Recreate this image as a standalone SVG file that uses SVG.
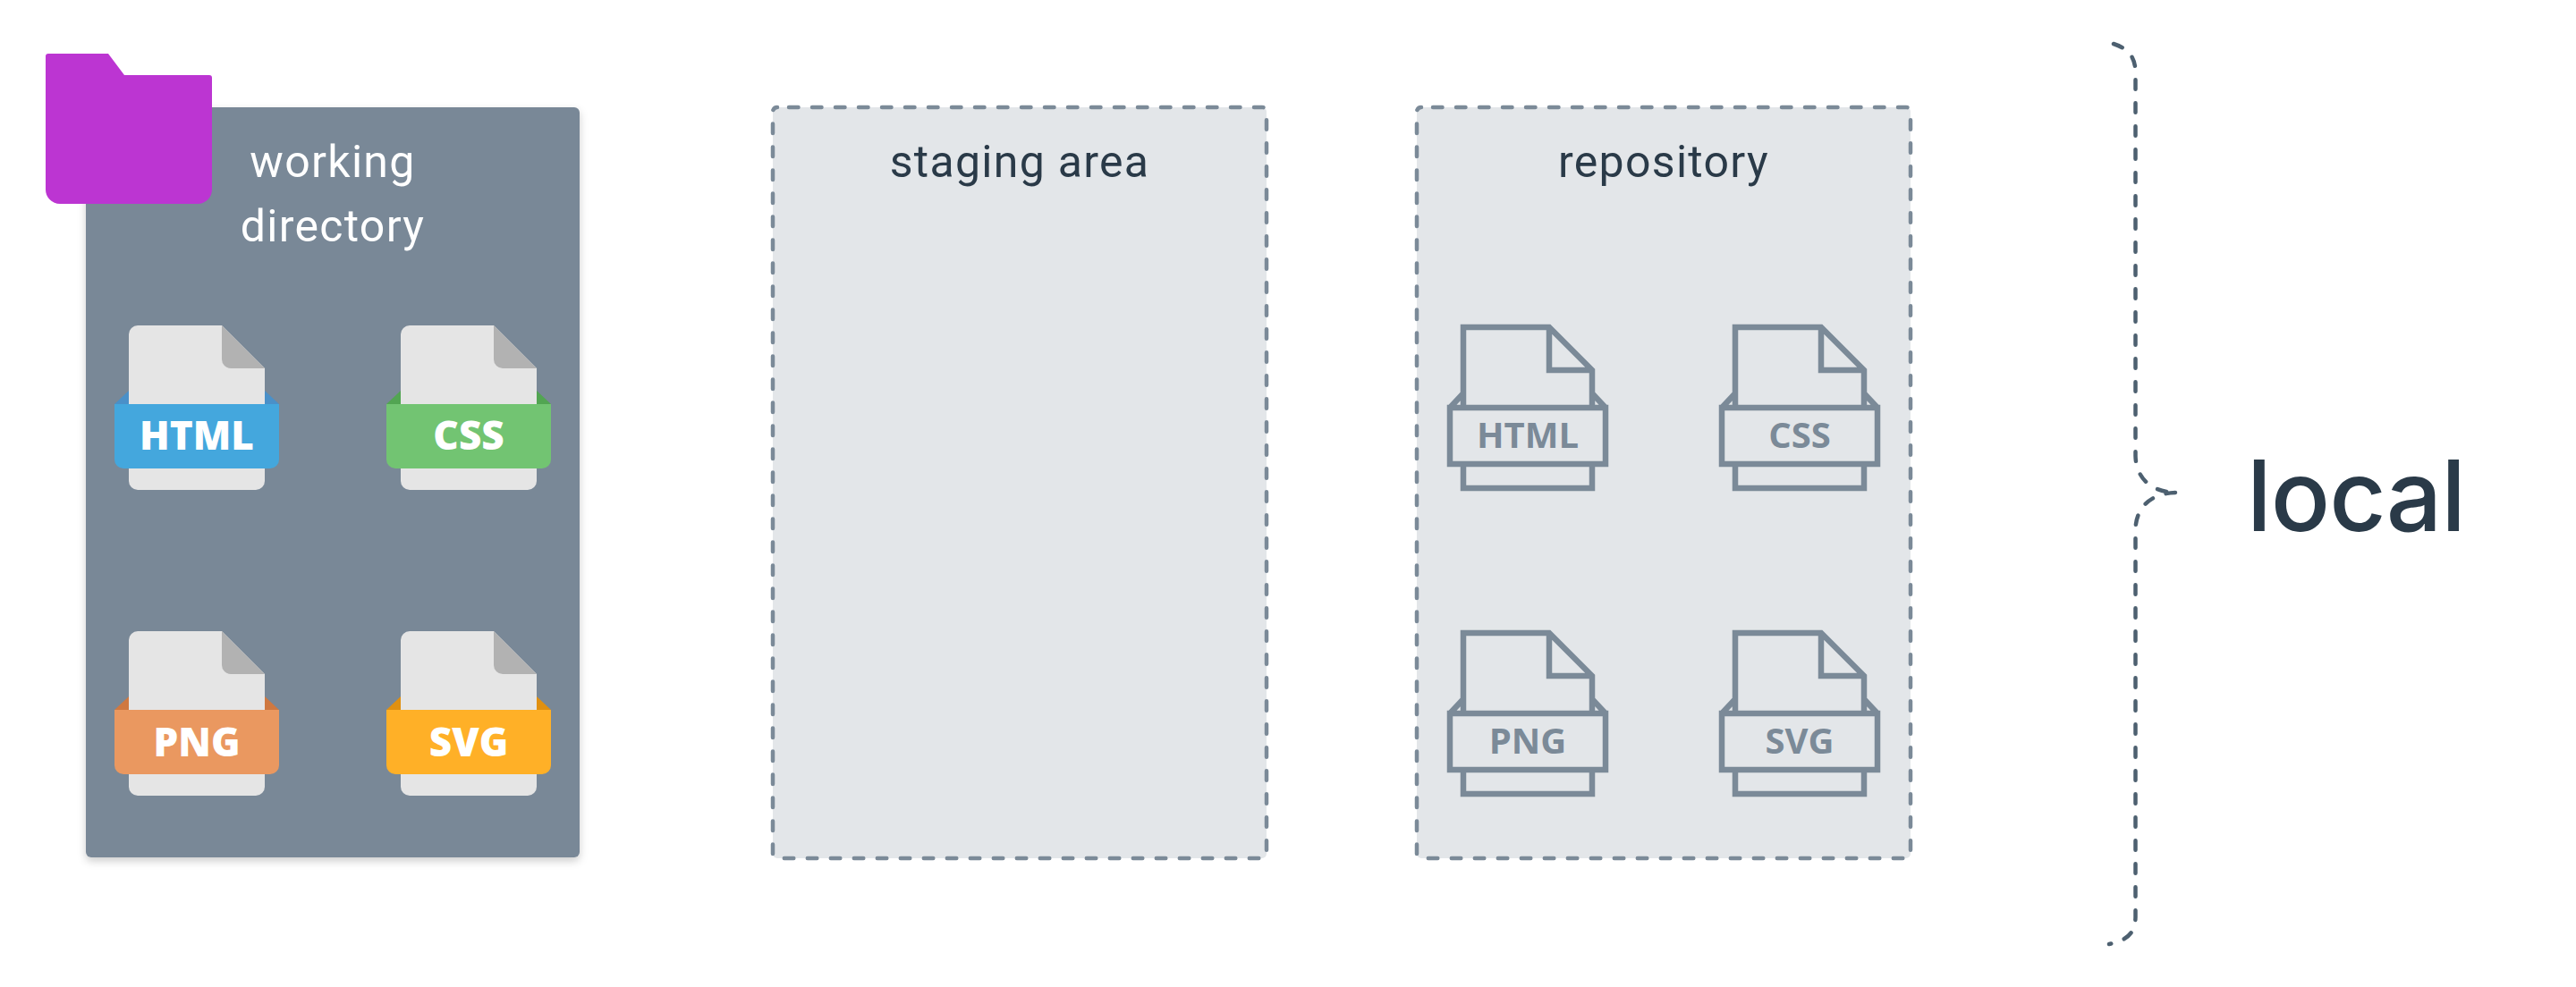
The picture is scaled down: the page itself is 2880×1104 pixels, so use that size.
<svg xmlns="http://www.w3.org/2000/svg" xmlns:xlink="http://www.w3.org/1999/xlink" width="2880" height="1104" viewBox="0 0 2880 1104">
<style>
.title{font-family:Roboto,"Liberation Sans",sans-serif;font-size:50px;text-anchor:middle;fill:#2a3a48;letter-spacing:1.3px}
.w{fill:#fff}
.tag{font-family:"Open Sans","Noto Sans",sans-serif;font-size:44px;font-weight:800;text-anchor:middle;fill:#fff}
.otag{font-family:"Open Sans","Noto Sans",sans-serif;font-size:40px;font-weight:700;text-anchor:middle;fill:#7b8a98}
.area{fill:#e3e6e9;stroke:#7b8a98;stroke-width:4.5;stroke-linecap:round;stroke-dasharray:10.5 15.5;stroke-dashoffset:13}
.o{fill:none;stroke:#7b8a98;stroke-width:6.5}
.brace{fill:none;stroke:#4d6070;stroke-width:4.5;stroke-linecap:round;stroke-dasharray:10.5 15.5}
</style>
<defs>
<filter id="sh" x="-10%" y="-10%" width="120%" height="120%"><feDropShadow dx="0" dy="4" stdDeviation="5" flood-color="#000" flood-opacity="0.2"/></filter>
<g id="page">
<path fill="#e5e5e5" d="M154,364H248L296,412V538a10,10 0 0 1 -10,10H154a10,10 0 0 1 -10,-10V374a10,10 0 0 1 10,-10Z"/>
<path fill="#b2b2b2" d="M248,364L296,412H258a10,10 0 0 1 -10,-10Z"/>
</g>
<g id="outline">
<path class="o" d="M1636,456V366H1732L1780,414V456M1732,366V414H1780M1636,440L1621,456M1780,440L1795,456M1621,456H1795V519H1621ZM1636,519V546H1780V519"/>
</g>
</defs>
<g id="working-directory">
<rect x="96" y="120" width="552" height="839" rx="6" fill="#798897" filter="url(#sh)"/>
<text class="title w" x="372" y="198">working</text>
<text class="title w" x="372" y="270">directory</text>
</g>
<g id="folder">
<path fill="#bc35d2" d="M54,60H121L139,84H234a3,3 0 0 1 3,3V212a16,16 0 0 1 -16,16H67a16,16 0 0 1 -16,-16V63a3,3 0 0 1 3,-3Z"/>
</g>
<g id="file-html">
<path fill="#4a90c8" d="M144,437L128,452H144ZM296,437L312,452H296Z"/>
<use href="#page"/>
<path fill="#44a7dd" d="M128,452H312V514a10,10 0 0 1 -10,10H138a10,10 0 0 1 -10,-10Z"/>
<text class="tag" x="220" y="503">HTML</text>
</g>
<g id="file-css">
<g transform="translate(304,0)">
<path fill="#52a552" d="M144,437L128,452H144ZM296,437L312,452H296Z"/>
<use href="#page"/>
<path fill="#72c472" d="M128,452H312V514a10,10 0 0 1 -10,10H138a10,10 0 0 1 -10,-10Z"/>
</g>
<text class="tag" x="524" y="503">CSS</text>
</g>
<g id="file-png">
<g transform="translate(0,342)">
<path fill="#cf7840" d="M144,437L128,452H144ZM296,437L312,452H296Z"/>
<use href="#page"/>
<path fill="#ea9860" d="M128,452H312V514a10,10 0 0 1 -10,10H138a10,10 0 0 1 -10,-10Z"/>
</g>
<text class="tag" x="220" y="846">PNG</text>
</g>
<g id="file-svg">
<g transform="translate(304,342)">
<path fill="#e09010" d="M144,437L128,452H144ZM296,437L312,452H296Z"/>
<use href="#page"/>
<path fill="#ffb027" d="M128,452H312V514a10,10 0 0 1 -10,10H138a10,10 0 0 1 -10,-10Z"/>
</g>
<text class="tag" x="524" y="846">SVG</text>
</g>
<g id="staging-area">
<path class="area" d="M869,120H1411a5,5 0 0 1 5,5V955a5,5 0 0 1 -5,5H869a5,5 0 0 1 -5,-5V125a5,5 0 0 1 5,-5Z"/>
<text class="title" x="1140" y="198">staging area</text>
</g>
<g id="repository">
<path class="area" d="M1589,120H2131a5,5 0 0 1 5,5V955a5,5 0 0 1 -5,5H1589a5,5 0 0 1 -5,-5V125a5,5 0 0 1 5,-5Z"/>
<text class="title" x="1860" y="198">repository</text>
</g>
<g id="repo-html"><use href="#outline"/><text class="otag" x="1708" y="501">HTML</text></g>
<g id="repo-css"><use href="#outline" transform="translate(304,0)"/><text class="otag" x="2012" y="501">CSS</text></g>
<g id="repo-png"><use href="#outline" transform="translate(0,342)"/><text class="otag" x="1708" y="843">PNG</text></g>
<g id="repo-svg"><use href="#outline" transform="translate(304,342)"/><text class="otag" x="2012" y="843">SVG</text></g>
<g id="connectors">
<path class="brace" d="M2363,49C2378,54 2387,62 2387.5,80V510C2388,532 2402,550 2432,551"/>
<path class="brace" d="M2432,551C2402,552 2388,570 2387.5,592V1026C2387,1044 2378,1052 2358,1056"/>
</g>
<g id="local-label">
<text x="2512" y="594" font-family="Inter,'Noto Sans',sans-serif" font-size="110" font-weight="500" letter-spacing="-1" fill="#2a3a48">local</text>
</g>
</svg>
